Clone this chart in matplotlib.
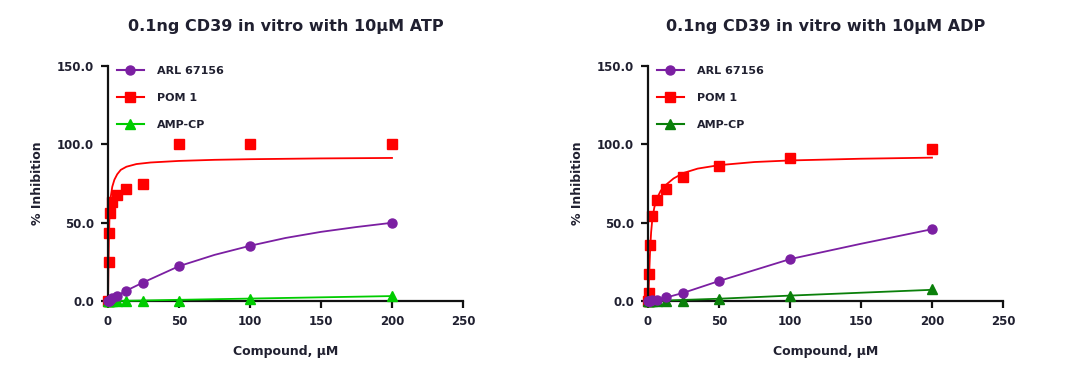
import numpy as np
import matplotlib
matplotlib.use("Agg")
import matplotlib.pyplot as plt

plt.rcParams['font.family'] = ['DejaVu Sans']
plt.rcParams['font.weight'] = 'bold'

# Doses, uM (2-fold dilution series)
dose = [0, 0.39, 0.78, 1.56, 3.125, 6.25, 12.5, 25, 50, 100, 200]

# ATP panel - measured points
atp_arl = [0, 0.1, 0.3, 0.8, 1.7, 3.2, 6.4, 11.7, 22.5, 35.3, 50.0]
atp_pom = [0, 25.0, 43.4, 56.0, 63.4, 67.6, 71.3, 74.5, 100.0, 100.0, 100.0]
atp_amp = [0, 0, 0, 0.1, 0.1, 0.2, 0.2, 0.2, 0.2, 1.3, 3.4]

# ATP panel - fitted curves
atp_arl_fx = [0, 3.125, 6.25, 12.5, 25, 50, 75, 100, 125, 150, 175, 200]
atp_arl_fy = [0, 1.7, 3.3, 6.5, 12.0, 22.3, 29.5, 35.3, 40.3, 44.2, 47.3, 50.0]
atp_pom_fx = [0, 0.3, 0.6, 1.0, 1.5, 2.0, 3, 4.5, 6.5, 9, 13, 20, 30, 50, 75, 100, 150, 200]
atp_pom_fy = [0, 20, 38, 52, 61, 67, 73, 77.5, 81, 83.8, 85.8, 87.5, 88.5, 89.5, 90.2, 90.6, 91.1, 91.4]
atp_amp_fx = [0, 50, 100, 200]
atp_amp_fy = [0, 0.8, 1.6, 3.2]

# ADP panel - measured points
adp_arl = [0, 0, 0.1, 0.2, 0.4, 0.9, 2.3, 5.3, 12.8, 26.8, 45.9]
adp_pom = [0, 4.9, 17.0, 35.7, 54.5, 64.6, 71.5, 79.4, 86.4, 91.5, 97.0]
adp_amp = [0, 0, 0, 0, 0.1, 0.1, 0.2, 0.3, 1.3, 3.4, 7.4]

# ADP panel - fitted curves
adp_arl_fx = [0, 5, 12.5, 25, 50, 100, 150, 200]
adp_arl_fy = [0, 0.7, 2.2, 5.3, 12.8, 26.8, 36.6, 45.9]
adp_pom_fx = [0, 0.4, 0.8, 1.5, 2.2, 3.1, 4.5, 6.5, 9, 13, 18, 25, 35, 50, 75, 100, 150, 200]
adp_pom_fy = [0, 5, 16, 33, 44, 53, 60, 66, 70.5, 74.5, 78.3, 81.8, 84.6, 86.8, 88.8, 89.8, 90.9, 91.6]
adp_amp_fx = [0, 50, 100, 200]
adp_amp_fy = [0, 1.5, 3.5, 7.2]

labels = ['ARL 67156', 'POM 1', 'AMP-CP']
titles = ['0.1ng CD39 in vitro with 10\u03bcM ATP', '0.1ng CD39 in vitro with 10\u03bcM ADP']

purple = '#7B1FA2'
red = '#FF0000'
greens = ['#00CC00', '#0A800A']
txt = '#202030'

fig = plt.figure(figsize=(10.8, 3.87), dpi=100)
axes = [fig.add_axes([0.1, 0.222, 0.3287, 0.607]),
        fig.add_axes([0.6, 0.222, 0.3287, 0.607])]

panels = [
    (atp_arl, atp_pom, atp_amp, atp_arl_fx, atp_arl_fy, atp_pom_fx, atp_pom_fy, atp_amp_fx, atp_amp_fy),
    (adp_arl, adp_pom, adp_amp, adp_arl_fx, adp_arl_fy, adp_pom_fx, adp_pom_fy, adp_amp_fx, adp_amp_fy),
]

for k, ax in enumerate(axes):
    arl, pom, amp, afx, afy, pfx, pfy, mfx, mfy = panels[k]
    green = greens[k]

    # fitted curves
    ax.plot(pfx, pfy, color=red, lw=1.3, zorder=2, clip_on=False)
    ax.plot(mfx, mfy, color=green, lw=1.3, zorder=3, clip_on=False)
    ax.plot(afx, afy, color=purple, lw=1.3, zorder=4, clip_on=False)

    # measured points
    ax.plot(dose, pom, 's', color=red, ms=6.5, zorder=2, clip_on=False)
    ax.plot(dose, amp, '^', color=green, ms=6.5, zorder=3, clip_on=False)
    ax.plot(dose, arl, 'o', color=purple, ms=6.5, zorder=4, clip_on=False)

    # legend proxies
    h1, = ax.plot([], [], '-o', color=purple, ms=6.5, lw=1.5)
    h2, = ax.plot([], [], '-s', color=red, ms=6.5, lw=1.5)
    h3, = ax.plot([], [], '-^', color=green, ms=6.5, lw=1.5)
    ax.legend([h1, h2, h3], labels, loc='upper left', bbox_to_anchor=(0.01, 1.025),
              frameon=False, handlelength=2.4, handletextpad=1.2,
              labelspacing=1.55, borderpad=0, labelcolor=txt,
              prop={'size': 8, 'weight': 'bold'})

    ax.set_xlim(0, 250)
    ax.set_ylim(0, 150)
    ax.set_xticks([0, 50, 100, 150, 200, 250])
    ax.set_yticks([0, 50, 100, 150])
    ax.set_yticklabels(['0.0', '50.0', '100.0', '150.0'])
    for s in ['top', 'right']:
        ax.spines[s].set_visible(False)
    for s in ['left', 'bottom']:
        ax.spines[s].set_linewidth(1.6)
        ax.spines[s].set_color('#111111')
    ax.tick_params(direction='out', length=5, width=1.6, colors='#111111',
                   labelcolor=txt, labelsize=8.5, pad=5)
    ax.set_xlabel('Compound, \u03bcM', fontsize=9, fontweight='bold', color=txt, labelpad=12)
    ax.set_ylabel('% Inhibition', fontsize=9, fontweight='bold', color=txt, labelpad=9)
    ax.set_title(titles[k], fontsize=11.5, fontweight='bold', color=txt, pad=25)

fig.savefig('out.png', dpi=100)
